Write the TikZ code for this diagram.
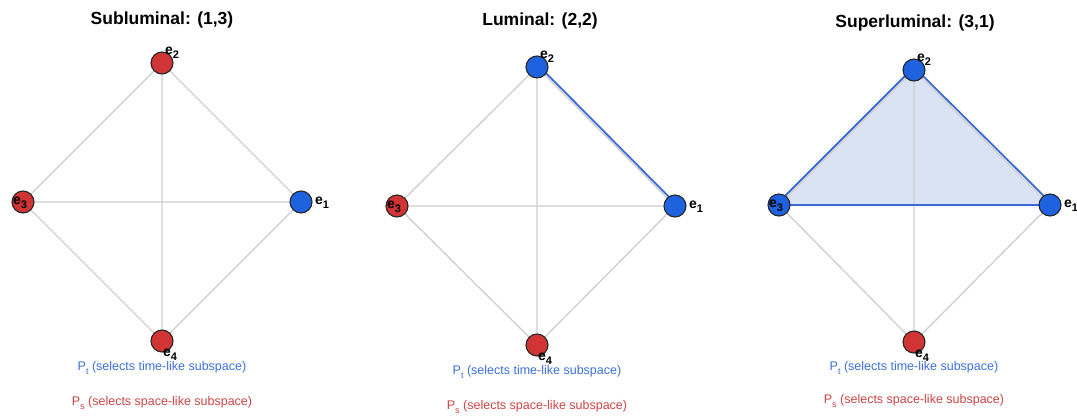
\documentclass[tikz,border=0pt]{standalone}
\usepackage{fontspec}
\setmainfont{Liberation Sans}
\pgfdeclarelayer{back}
\pgfdeclarelayer{bg}
\pgfsetlayers{back,bg,main}
\definecolor{nodeblue}{HTML}{1F62E0}
\definecolor{nodered}{HTML}{D03434}
\definecolor{edgegray}{HTML}{CFCFCF}
\definecolor{edgeblue}{HTML}{3A6AD6}
\definecolor{fillblue}{HTML}{DAE3F4}
\definecolor{txtblue}{HTML}{3C70D8}
\definecolor{txtred}{HTML}{CC4444}
\tikzset{
  vtx/.style={circle,draw=black!85,line width=1.1pt,minimum size=22pt,inner sep=0pt},
  bluevtx/.style={vtx,fill=nodeblue},
  redvtx/.style={vtx,fill=nodered},
  grayedge/.style={draw=edgegray,line width=1.3pt},
  blueedge/.style={draw=edgeblue,line width=1.8pt},
  lbl/.style={inner sep=0pt,font=\fontsize{14}{16}\selectfont\bfseries},
  ttl/.style={inner sep=0pt,font=\fontsize{17.5}{20}\selectfont\bfseries},
  ptxt/.style={inner sep=0pt,text=txtblue,font=\fontsize{12.5}{15}\selectfont},
  stxt/.style={inner sep=0pt,text=txtred,font=\fontsize{12.5}{15}\selectfont},
}
\newcommand\elbl[1]{e\raisebox{-4pt}{\fontsize{11}{12}\selectfont\bfseries #1}}
\newcommand\sublbl[1]{\raisebox{-3.5pt}{\fontsize{9}{10}\selectfont #1}}
% #1 prefix, #2-#5 positions of e1..e4, #6-#9 styles of e1..e4
\newcommand\quadpanel[9]{%
  \node[#6] (#1e1) at #2 {};
  \node[#7] (#1e2) at #3 {};
  \node[#8] (#1e3) at #4 {};
  \node[#9] (#1e4) at #5 {};
  \begin{pgfonlayer}{bg}
  \draw[grayedge] (#1e1) -- (#1e2) (#1e2) -- (#1e3) (#1e3) -- (#1e4) (#1e4) -- (#1e1)
                  (#1e1) -- (#1e3) (#1e2) -- (#1e4);
  \end{pgfonlayer}
  \node[lbl] (#1l1) at ([shift={(21,1)}]#1e1.center) {\elbl{1}};
  \node[lbl] (#1l2) at ([shift={(10,-10)}]#1e2.center) {\elbl{2}};
  \node[lbl] (#1l3) at ([shift={(-3,1)}]#1e3.center) {\elbl{3}};
  \node[lbl] (#1l4) at ([shift={(8,14)}]#1e4.center) {\elbl{4}};
}
\begin{document}
\begin{tikzpicture}[x=1pt,y=-1pt]
\useasboundingbox (0,0) rectangle (1077,416);
\begin{pgfonlayer}{back}
\fill[white] (0,0) rectangle (1077,416);
\end{pgfonlayer}

% Panel 1
\node[ttl] (t1) at (162,20) {Subluminal: (1,3)};
\quadpanel{a}{(301,202)}{(162,63)}{(23,202)}{(162,341)}{bluevtx}{redvtx}{redvtx}{redvtx}
\node[ptxt] (pa) at (162,368) {P\sublbl{t} (selects time-like subspace)};
\node[stxt] (sa) at (162,403) {P\sublbl{s} (selects space-like subspace)};

% Panel 2
\node[ttl] (t2) at (540,21) {Luminal: (2,2)};
\quadpanel{b}{(675,206)}{(537,67)}{(397,206)}{(537,345)}{bluevtx}{bluevtx}{redvtx}{redvtx}
\begin{pgfonlayer}{bg}
\draw[blueedge] ([shift={(1.5,-1.5)}]be2.center) -- ([shift={(1.5,-1.5)}]be1.center);
\end{pgfonlayer}
\node[ptxt] (pb) at (537,372) {P\sublbl{t} (selects time-like subspace)};
\node[stxt] (sb) at (537,407) {P\sublbl{s} (selects space-like subspace)};

% Panel 3
\node[ttl] (t3) at (915,23) {Superluminal: (3,1)};
\begin{pgfonlayer}{back}
\coordinate (f2) at (914,70);
\coordinate (f1) at (1050,205);
\coordinate (f3) at (779,205);
\fill[fillblue] (f2) -- (f1) -- (f3) -- cycle;
\end{pgfonlayer}
\quadpanel{c}{(1050,205)}{(914,70)}{(779,205)}{(914,342)}{bluevtx}{bluevtx}{bluevtx}{redvtx}
\begin{pgfonlayer}{bg}
\draw[blueedge] ([shift={(1.5,-1.5)}]ce2.center) -- ([shift={(1.5,-1.5)}]ce1.center);
\draw[blueedge] ([shift={(-1.5,-1.5)}]ce2.center) -- ([shift={(-1.5,-1.5)}]ce3.center);
\draw[blueedge] (ce3.center) -- (ce1.center);
\end{pgfonlayer}
\node[ptxt] (pc) at (914,368) {P\sublbl{t} (selects time-like subspace)};
\node[stxt] (sc) at (914,401) {P\sublbl{s} (selects space-like subspace)};
\end{tikzpicture}
\end{document}
